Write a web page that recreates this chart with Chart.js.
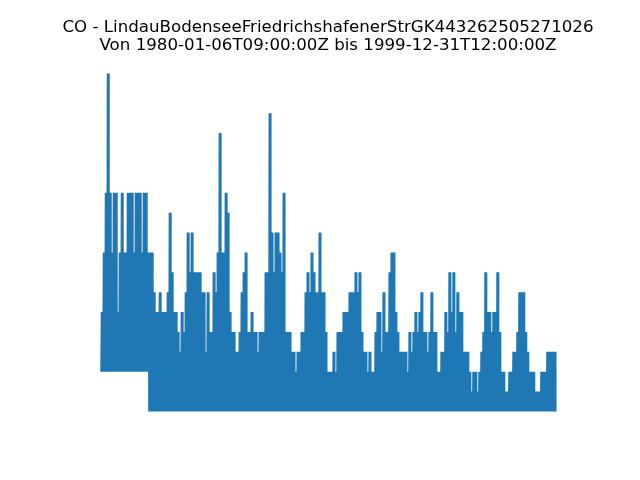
<!DOCTYPE html>
<html>
<head>
<meta charset="utf-8">
<script src="https://cdn.jsdelivr.net/npm/chart.js@4/dist/chart.umd.min.js"></script>
<style>
  html, body { margin: 0; padding: 0; background: #ffffff; }
  #wrap { width: 640px; height: 480px; }
</style>
</head>
<body>
<div id="wrap"><canvas id="c" width="640" height="480"></canvas></div>
<script>
// Title lines
const titleLines = [
  "CO - LindauBodenseeFriedrichshafenerStrGK443262505271026",
  "Von 1980-01-06T09:00:00Z bis 1999-12-31T12:00:00Z"
];

// Time span (decimal years) of the record
const startYear = 1980.015;
const endYear = 1999.997;

// Upper envelope (peak values) per time slice
const peaks = [
  0.6,0.9,1.2,1.8,1.2,0.9,1.2,1.2,0.6,0.9,
  1.2,0.9,0.9,1.2,1.2,1.2,0.9,1.2,1.2,1.2,
  0.9,1.2,1.2,0.9,0.9,0.9,0.7,0.6,0.6,0.7,
  0.6,0.6,0.6,0.7,1.1,0.8,0.6,0.6,0.5,0.4,
  0.6,0.5,0.7,1.0,0.8,1.0,0.8,0.8,0.8,0.8,
  0.7,0.7,0.4,0.7,0.5,0.5,0.8,0.7,0.9,1.5,
  0.9,0.9,1.2,1.1,0.6,0.5,0.5,0.4,0.4,0.5,
  0.7,0.8,0.9,0.5,0.5,0.6,0.5,0.5,0.4,0.5,
  0.5,0.5,0.8,0.8,1.6,1.0,0.8,1.0,1.0,0.9,
  0.8,1.2,0.5,0.5,0.5,0.4,0.4,0.3,0.4,0.4,
  0.5,0.5,0.7,0.8,0.7,0.9,0.8,0.7,0.7,1.0,
  0.7,0.7,0.5,0.3,0.3,0.3,0.4,0.3,0.5,0.5,
  0.5,0.6,0.6,0.6,0.7,0.7,0.7,0.8,0.7,0.8,
  0.5,0.4,0.4,0.3,0.4,0.3,0.3,0.5,0.6,0.6,
  0.4,0.7,0.5,0.5,0.8,0.9,0.9,0.6,0.5,0.4,
  0.4,0.4,0.4,0.3,0.5,0.4,0.5,0.6,0.5,0.6,
  0.7,0.5,0.5,0.4,0.5,0.7,0.5,0.5,0.3,0.3,
  0.4,0.4,0.6,0.5,0.8,0.6,0.8,0.5,0.7,0.6,
  0.6,0.4,0.4,0.4,0.3,0.2,0.3,0.3,0.2,0.3,
  0.4,0.5,0.8,0.6,0.6,0.5,0.6,0.6,0.8,0.5,
  0.3,0.3,0.2,0.2,0.3,0.3,0.4,0.4,0.5,0.7,
  0.7,0.7,0.5,0.4,0.3,0.3,0.3,0.2,0.2,0.2,
  0.3,0.3,0.3,0.4,0.4,0.4,0.4,0.4
];

// Lower envelope (trough values) per time slice
const troughs = [
  0.3,0.3,0.3,0.3,0.3,0.3,0.3,0.3,0.3,0.3,
  0.3,0.3,0.3,0.3,0.3,0.3,0.3,0.3,0.3,0.3,
  0.3,0.3,0.3,0.3,0.1,0.1,0.1,0.1,0.1,0.1,
  0.1,0.1,0.1,0.1,0.1,0.1,0.1,0.1,0.1,0.1,
  0.1,0.1,0.1,0.1,0.1,0.1,0.1,0.1,0.1,0.1,
  0.1,0.1,0.1,0.1,0.1,0.1,0.1,0.1,0.1,0.1,
  0.1,0.1,0.1,0.1,0.1,0.1,0.1,0.1,0.1,0.1,
  0.1,0.1,0.1,0.1,0.1,0.1,0.1,0.1,0.1,0.1,
  0.1,0.1,0.1,0.1,0.1,0.1,0.1,0.1,0.1,0.1,
  0.1,0.1,0.1,0.1,0.1,0.1,0.1,0.1,0.1,0.1,
  0.1,0.1,0.1,0.1,0.1,0.1,0.1,0.1,0.1,0.1,
  0.1,0.1,0.1,0.1,0.1,0.1,0.1,0.1,0.1,0.1,
  0.1,0.1,0.1,0.1,0.1,0.1,0.1,0.1,0.1,0.1,
  0.1,0.1,0.1,0.1,0.1,0.1,0.1,0.1,0.1,0.1,
  0.1,0.1,0.1,0.1,0.1,0.1,0.1,0.1,0.1,0.1,
  0.1,0.1,0.1,0.1,0.1,0.1,0.1,0.1,0.1,0.1,
  0.1,0.1,0.1,0.1,0.1,0.1,0.1,0.1,0.1,0.1,
  0.1,0.1,0.1,0.1,0.1,0.1,0.1,0.1,0.1,0.1,
  0.1,0.1,0.1,0.1,0.1,0.1,0.1,0.1,0.1,0.1,
  0.1,0.1,0.1,0.1,0.1,0.1,0.1,0.1,0.1,0.1,
  0.1,0.1,0.1,0.1,0.1,0.1,0.1,0.1,0.1,0.1,
  0.1,0.1,0.1,0.1,0.1,0.1,0.1,0.1,0.1,0.1,
  0.1,0.1,0.1,0.1,0.1,0.1,0.1,0.1
];

// Build the oscillating trough/peak series along the time axis
// (each slice holds two trough->peak swings, as in the dense hourly record)
const n = peaks.length;
const slice = (endYear - startYear) / (n - 0.25);
const points = [];
for (let i = 0; i < n; i++) {
  const t = startYear + i * slice;
  points.push({ x: t, y: troughs[i] });
  points.push({ x: t + slice * 0.25, y: peaks[i] });
  points.push({ x: t + slice * 0.5, y: troughs[i] });
  points.push({ x: t + slice * 0.75, y: peaks[i] });
}

// Horizontal placement: chart area is 16..640 px; the record spans 101..556 px
const padLeft = 16;
const perPx = (endYear - startYear) / 455;
const xMin = startYear - (101 - padLeft) * perPx;
const xMax = endYear + 84 * perPx;

const chart = new Chart(document.getElementById('c'), {
  type: 'line',
  data: {
    datasets: [{
      label: 'CO',
      data: points,
      borderColor: '#1f77b4',
      backgroundColor: '#1f77b4',
      borderWidth: 1.5,
      pointRadius: 0,
      tension: 0,
      fill: false,
      clip: false
    }]
  },
  options: {
    responsive: false,
    animation: false,
    events: [],
    layout: { padding: { left: padLeft, right: 0, top: 0, bottom: 68.5 } },
    plugins: {
      legend: { display: false },
      tooltip: { enabled: false },
      title: {
        display: true,
        text: titleLines,
        color: '#000000',
        font: { family: 'DejaVu Sans', size: 16.67, weight: 'normal', lineHeight: 1.1 },
        padding: { top: 18.5, bottom: 18.3 }
      }
    },
    scales: {
      x: { type: 'linear', display: false, min: xMin, max: xMax },
      y: { type: 'linear', display: false, min: 0.1, max: 1.8 }
    }
  }
});
</script>
</body>
</html>
